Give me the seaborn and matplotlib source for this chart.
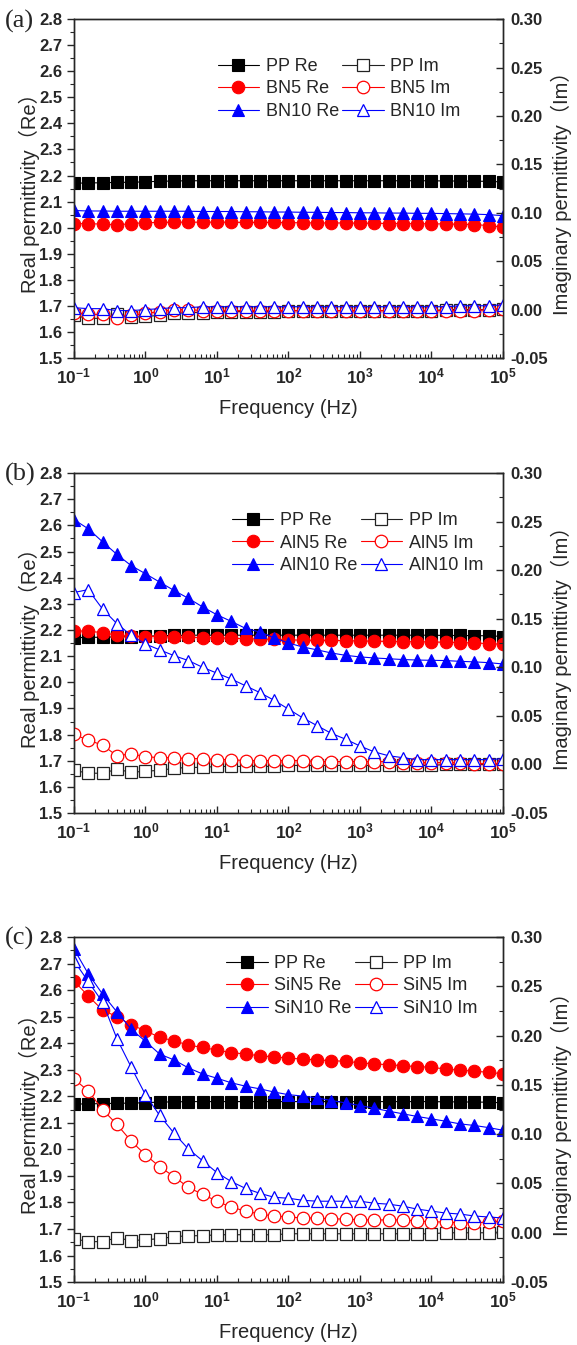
import numpy as np
import seaborn as sns
import matplotlib.pyplot as plt
from matplotlib.ticker import MultipleLocator, FixedLocator, LogLocator, FuncFormatter, NullFormatter

sns.set_style('ticks')
plt.rcParams['font.family'] = ['Liberation Sans', 'Noto Sans CJK SC', 'DejaVu Sans']
plt.rcParams['mathtext.fontset'] = 'custom'
plt.rcParams['mathtext.rm'] = 'Liberation Sans'
plt.rcParams['mathtext.bf'] = 'Liberation Sans:bold'
plt.rcParams['axes.linewidth'] = 1.0

# frequency points, 5 per decade
freq = [0.1, 0.158, 0.251, 0.398, 0.631,
        1, 1.58, 2.51, 3.98, 6.31,
        10, 15.8, 25.1, 39.8, 63.1,
        100, 158, 251, 398, 631,
        1000, 1580, 2510, 3980, 6310,
        10000, 15800, 25100, 39800, 63100,
        100000]
decades = [0.1, 1, 10, 100, 1000, 10000, 100000]

pp_re = [2.170, 2.172, 2.172, 2.174, 2.174, 2.176, 2.178, 2.179, 2.180, 2.180, 2.180, 2.180, 2.180, 2.180, 2.180, 2.180,
         2.180, 2.180, 2.180, 2.180, 2.180, 2.180, 2.180, 2.180, 2.180, 2.180, 2.179, 2.179, 2.178, 2.178, 2.175]
pp_im = [-0.006, -0.009, -0.009, -0.005, -0.008, -0.007, -0.006, -0.004, -0.003, -0.003, -0.002, -0.002, -0.002, -0.002,
         -0.002, -0.001, -0.001, -0.001, -0.001, -0.001, -0.001, -0.001, -0.001, -0.001, -0.001, -0.001, 0.000, 0.000,
         0.000, 0.000, 0.001]

# (a) BN
bn5_re = [2.016, 2.015, 2.014, 2.010, 2.016, 2.019, 2.020, 2.021, 2.021, 2.021, 2.021, 2.021, 2.020, 2.020, 2.020, 2.019,
          2.019, 2.018, 2.018, 2.018, 2.017, 2.017, 2.016, 2.016, 2.015, 2.015, 2.014, 2.013, 2.012, 2.008, 2.002]
bn10_re = [2.066, 2.064, 2.064, 2.063, 2.063, 2.063, 2.063, 2.063, 2.063, 2.062, 2.062, 2.062, 2.061, 2.061, 2.060, 2.060,
           2.059, 2.059, 2.058, 2.058, 2.057, 2.057, 2.056, 2.056, 2.055, 2.055, 2.054, 2.053, 2.052, 2.050, 2.046]
bn5_im = [-0.003, -0.005, -0.005, -0.009, -0.006, -0.004, -0.002, 0.000, 0.000, -0.001, -0.001, -0.001, -0.001, -0.001,
          -0.001, -0.001, -0.001, -0.001, -0.001, -0.001, -0.001, -0.001, -0.001, -0.001, -0.001, -0.001, -0.001, -0.001,
          -0.001, 0.000, 0.001]
bn10_im = [0.002, 0.001, 0.001, -0.001, -0.001, 0.000, 0.001, 0.002, 0.002, 0.003, 0.003, 0.003, 0.003, 0.003, 0.003,
           0.003, 0.003, 0.003, 0.003, 0.003, 0.003, 0.003, 0.003, 0.003, 0.003, 0.003, 0.003, 0.004, 0.004, 0.004, 0.005]

# (b) AlN
aln5_re = [2.197, 2.195, 2.190, 2.180, 2.176, 2.175, 2.175, 2.173, 2.172, 2.171, 2.170, 2.168, 2.167, 2.165, 2.164,
           2.162, 2.161, 2.160, 2.160, 2.159, 2.158, 2.157, 2.156, 2.155, 2.155, 2.154, 2.153, 2.152, 2.150, 2.148, 2.145]
aln10_re = [2.622, 2.587, 2.537, 2.489, 2.446, 2.415, 2.383, 2.351, 2.321, 2.288, 2.258, 2.233, 2.206, 2.192, 2.170,
            2.150, 2.135, 2.124, 2.112, 2.103, 2.097, 2.093, 2.090, 2.087, 2.085, 2.084, 2.083, 2.080, 2.078, 2.075, 2.070]
aln5_im = [0.031, 0.025, 0.020, 0.009, 0.011, 0.008, 0.007, 0.007, 0.006, 0.006, 0.005, 0.005, 0.004, 0.004, 0.004,
           0.004, 0.004, 0.003, 0.003, 0.003, 0.003, 0.003, 0.003, 0.002, 0.002, 0.002, 0.002, 0.002, 0.001, 0.001, 0.001]
aln10_im = [0.177, 0.180, 0.160, 0.145, 0.133, 0.124, 0.118, 0.112, 0.107, 0.100, 0.094, 0.088, 0.081, 0.074, 0.066,
            0.057, 0.048, 0.040, 0.032, 0.026, 0.019, 0.013, 0.009, 0.007, 0.005, 0.005, 0.005, 0.005, 0.005, 0.005, 0.006]

# (c) SiN
sin5_re = [2.635, 2.578, 2.525, 2.500, 2.469, 2.447, 2.422, 2.409, 2.393, 2.384, 2.374, 2.365, 2.359, 2.353, 2.348,
           2.344, 2.340, 2.337, 2.334, 2.332, 2.326, 2.322, 2.319, 2.315, 2.312, 2.309, 2.303, 2.298, 2.295, 2.290, 2.285]
sin10_re = [2.755, 2.662, 2.585, 2.518, 2.453, 2.407, 2.359, 2.337, 2.307, 2.284, 2.268, 2.251, 2.238, 2.228, 2.216,
            2.206, 2.201, 2.194, 2.184, 2.175, 2.165, 2.155, 2.144, 2.134, 2.124, 2.115, 2.106, 2.096, 2.090, 2.082, 2.072]
sin5_im = [0.156, 0.144, 0.125, 0.110, 0.093, 0.079, 0.067, 0.057, 0.046, 0.039, 0.032, 0.026, 0.022, 0.019, 0.017,
           0.016, 0.015, 0.015, 0.014, 0.014, 0.013, 0.013, 0.013, 0.013, 0.012, 0.011, 0.011, 0.010, 0.010, 0.011, 0.012]
sin10_im = [0.276, 0.255, 0.234, 0.197, 0.168, 0.140, 0.119, 0.101, 0.085, 0.073, 0.061, 0.052, 0.045, 0.040, 0.036,
            0.035, 0.033, 0.032, 0.032, 0.032, 0.032, 0.030, 0.029, 0.027, 0.024, 0.022, 0.020, 0.019, 0.017, 0.016, 0.015]

panels = [
    ('(a)', 'BN', bn5_re, bn10_re, bn5_im, bn10_im),
    ('(b)', 'AlN', aln5_re, aln10_re, aln5_im, aln10_im),
    ('(c)', 'SiN', sin5_re, sin10_re, sin5_im, sin10_im),
]

# axes boxes in figure fractions, legend anchors in axes fractions
boxes = [[0.1282, 0.7338, 0.7435, 0.2520],
         [0.1282, 0.3955, 0.7435, 0.2528],
         [0.1282, 0.0468, 0.7435, 0.2565]]
leg_anchor = [(0.335, 0.885), (0.368, 0.885), (0.355, 0.948)]
letter_y = [0.984, 0.647, 0.302]

W, H = 577, 1345
fig = plt.figure(figsize=(W / 100, H / 100), dpi=100)

tick_font = dict(family='Liberation Sans', weight='bold', size=12)
lab_family = ['Liberation Sans', 'Noto Sans CJK SC']


def decade_fmt(v, pos):
    return r'$\mathbf{10^{%d}}$' % int(round(np.log10(v)))


for i, (letter, name, re5, re10, im5, im10) in enumerate(panels):
    ax = fig.add_axes(boxes[i])
    ax2 = ax.twinx()

    series_re = [('PP Re', pp_re, 's', 'black', 8),
                 (name + '5 Re', re5, 'o', 'red', 9),
                 (name + '10 Re', re10, '^', 'blue', 9)]
    series_im = [('PP Im', pp_im, 's', '#222222', 8),
                 (name + '5 Im', im5, 'o', 'red', 9),
                 (name + '10 Im', im10, '^', 'blue', 9)]
    handles = []
    for lab, vals, mk, col, ms in series_re:
        sns.lineplot(x=freq, y=vals, ax=ax, color=col, lw=0.8, marker=mk, markersize=ms,
                     markerfacecolor=col, markeredgecolor=col, markeredgewidth=0.8, label=lab, legend=False)
        handles.append(ax.get_lines()[-1])
    for lab, vals, mk, col, ms in series_im:
        sns.lineplot(x=freq, y=vals, ax=ax2, color=col, lw=0.8, marker=mk, markersize=ms,
                     markerfacecolor='white', markeredgecolor=col, markeredgewidth=0.9, label=lab, legend=False)
        handles.append(ax2.get_lines()[-1])

    ax.set_xscale('log')
    ax.set_xlim(0.1, 1e5)
    ax.set_ylim(1.5, 2.8)
    ax2.set_ylim(-0.05, 0.30)

    ax.yaxis.set_major_locator(MultipleLocator(0.1))
    ax.yaxis.set_minor_locator(MultipleLocator(0.05))
    ax2.yaxis.set_major_locator(MultipleLocator(0.05))
    ax2.yaxis.set_minor_locator(MultipleLocator(0.025))
    ax.xaxis.set_major_locator(FixedLocator(decades))
    ax.xaxis.set_minor_locator(LogLocator(base=10, subs=np.arange(2, 10), numticks=20))
    ax.xaxis.set_major_formatter(FuncFormatter(decade_fmt))
    ax.xaxis.set_minor_formatter(NullFormatter())
    ax.yaxis.set_major_formatter(FuncFormatter(lambda v, p: '%.1f' % v))
    ax2.yaxis.set_major_formatter(FuncFormatter(lambda v, p: '%.2f' % v))

    ax.tick_params(axis='y', which='major', direction='out', length=5, width=1.0, left=True, right=False)
    ax.tick_params(axis='y', which='minor', direction='out', length=3, width=0.8, left=True, right=False)
    ax.tick_params(axis='x', which='major', direction='in', length=5, width=1.0, top=False, pad=6)
    ax.tick_params(axis='x', which='minor', direction='in', length=3, width=0.8, top=False)
    ax2.tick_params(axis='y', which='major', direction='in', length=5, width=1.0, pad=5)
    ax2.tick_params(axis='y', which='minor', direction='in', length=3, width=0.8)

    for t in ax.get_yticklabels() + ax2.get_yticklabels():
        t.set_fontproperties(tick_font)
    for t in ax.get_xticklabels():
        t.set_fontsize(12.5)

    ax.set_xlabel('Frequency (Hz)', fontsize=14.5, family=lab_family, labelpad=9)
    ax.set_ylabel('Real permittivity（Re）', fontsize=14.5, family=lab_family, labelpad=-1)
    ax2.set_ylabel('Imaginary permittivity（Im）', fontsize=14.5, family=lab_family, labelpad=2)

    ax2.legend(handles=handles, ncol=2, loc='upper left', bbox_to_anchor=leg_anchor[i],
               frameon=False, fontsize=13, handlelength=2.3, handletextpad=0.35,
               columnspacing=0.2, labelspacing=0.3, borderpad=0, borderaxespad=0)

    fig.text(0.008, letter_y[i], letter, family='Liberation Serif', fontsize=19, va='center', ha='left')

fig.savefig('out.png', dpi=100)
